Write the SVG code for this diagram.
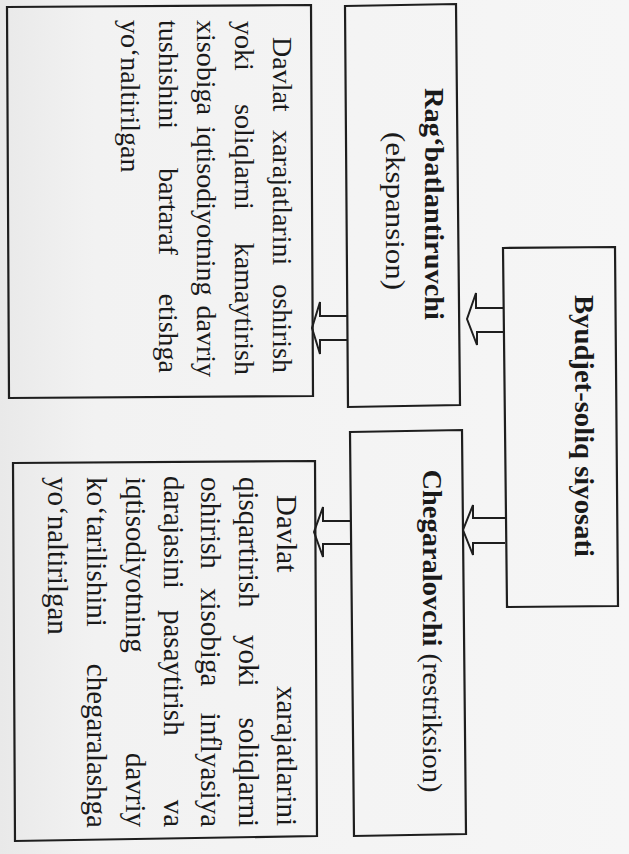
<svg xmlns="http://www.w3.org/2000/svg" width="629" height="854" viewBox="0 0 629 854">
<defs>
<linearGradient id="bg" x1="0" y1="0" x2="1" y2="0">
<stop offset="0" stop-color="#e9e9e9"/>
<stop offset="0.15" stop-color="#f2f2f2"/>
<stop offset="1" stop-color="#f6f6f6"/>
</linearGradient>
<style>
.box{fill:none;stroke:#1e1e1e;stroke-width:2.2;stroke-linejoin:miter}
.arr{fill:none;stroke:#1e1e1e;stroke-width:2;stroke-linejoin:miter}
text{font-family:"Liberation Serif","Times New Roman",serif;fill:#1a1a1a}
.b{font-weight:bold;font-size:28px}
.r{font-size:28px}
.t1{font-size:28px}
.t2{font-size:29px}
.e{text-anchor:end}
</style>
</defs>
<rect x="0" y="0" width="629" height="854" fill="url(#bg)"/>

<g id="root">
<polygon class="box" points="503,248 615,247 618,606 507,607"/>
<text class="b" text-anchor="middle" transform="translate(575,426) rotate(90)" textLength="262" lengthAdjust="spacingAndGlyphs">Byudjet-soliq siyosati</text>
</g>

<g id="expansion">
<polygon class="box" points="345,6 456,4 460,405 348,407"/>
<text class="b" text-anchor="middle" transform="translate(425,204) rotate(90)" textLength="232" lengthAdjust="spacingAndGlyphs">Rag‘batlantiruvchi</text>
<text class="r" text-anchor="middle" transform="translate(386,211) rotate(90)" textLength="158" lengthAdjust="spacingAndGlyphs">(ekspansion)</text>
</g>

<g id="restriction">
<polygon class="box" points="350,432 462,430 466,834 354,836"/>
<text text-anchor="middle" transform="translate(423,631) rotate(90)" textLength="323" lengthAdjust="spacingAndGlyphs" style="font-size:28px"><tspan font-weight="bold">Chegaralovchi</tspan> (restriksion)</text>
</g>

<g id="expansion-desc">
<polygon class="box" points="7,7 311,5 313,396 9,398"/>
<g class="t1">
<text transform="translate(273,0) rotate(90)"><tspan x="37">Davlat</tspan><tspan x="130">xarajatlarini</tspan><tspan class="e" x="373">oshirish</tspan></text>
<text transform="translate(235,0) rotate(90)"><tspan x="21">yoki</tspan><tspan x="104">soliqlarni</tspan><tspan class="e" x="375">kamaytirish</tspan></text>
<text transform="translate(197,0) rotate(90)"><tspan x="20">xisobiga</tspan><tspan x="126">iqtisodiyotning</tspan><tspan class="e" x="377">davriy</tspan></text>
<text transform="translate(159,0) rotate(90)"><tspan x="20">tushishini</tspan><tspan x="168">bartaraf</tspan><tspan class="e" x="373">etishga</tspan></text>
<text transform="translate(121,0) rotate(90)"><tspan x="20">yo‘naltirilgan</tspan></text>
</g>
</g>

<g id="restriction-desc">
<polygon class="box" points="13,463 315,461 317,836 15,841"/>
<g class="t2">
<text transform="translate(277,0) rotate(90)"><tspan x="495">Davlat</tspan><tspan class="e" x="826">xarajatlarini</tspan></text>
<text transform="translate(239,0) rotate(90)"><tspan x="477">qisqartirish</tspan><tspan x="635">yoki</tspan><tspan class="e" x="827">soliqlarni</tspan></text>
<text transform="translate(201,0) rotate(90)"><tspan x="477">oshirish</tspan><tspan x="588">xisobiga</tspan><tspan class="e" x="827">inflyasiya</tspan></text>
<text transform="translate(164,0) rotate(90)"><tspan x="476">darajasini</tspan><tspan x="610">pasaytirish</tspan><tspan class="e" x="827">va</tspan></text>
<text transform="translate(126,0) rotate(90)"><tspan x="477">iqtisodiyotning</tspan><tspan class="e" x="827">davriy</tspan></text>
<text transform="translate(87,0) rotate(90)"><tspan x="477">ko‘tarilishini</tspan><tspan class="e" x="828">chegaralashga</tspan></text>
<text transform="translate(48,0) rotate(90)"><tspan x="477">yo‘naltirilgan</tspan></text>
</g>
</g>

<g id="connectors">
<polyline class="arr" points="503,308 476,308 476,293 467,319 477,345 477,332 503,332"/>
<polyline class="arr" points="505,518 473,518 473,505 463,530 473,555 473,543 505,543"/>
<polyline class="arr" points="348,316 320,316 320,302 312,328 320,354 320,340 348,340"/>
<polyline class="arr" points="350,521 323,521 323,507 314,532 323,557 323,544 350,544"/>
</g>
</svg>
